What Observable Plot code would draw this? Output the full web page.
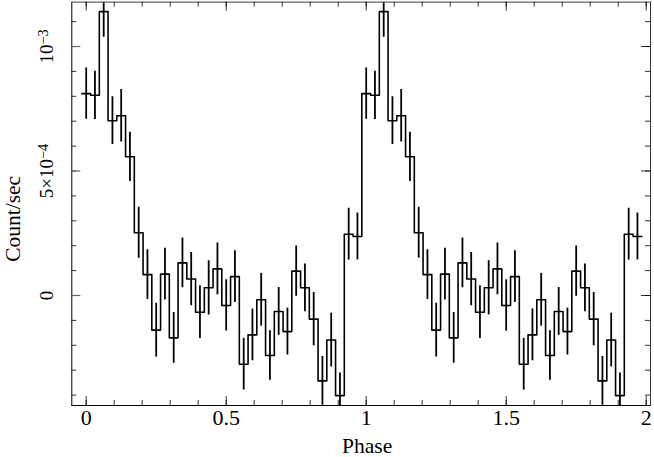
<!DOCTYPE html>
<html>
<head>
<meta charset="utf-8">
<script src="https://cdn.jsdelivr.net/npm/d3@7"></script>
<script src="https://cdn.jsdelivr.net/npm/@observablehq/plot@0.6"></script>
<style>
  html, body { margin: 0; padding: 0; background: #fff; }
  svg { display: block; }
  svg text { font-family: 'Liberation Serif', 'Times New Roman', serif !important; }
</style>
</head>
<body>
<div id="chart"></div>
<script>
// Folded light curve: 32 phase bins per cycle, shown twice (phase 0-2)
const binsPerCycle = 32;
// Count rate per bin, in units of 1e-4 count/sec
const rateE4 = [8.11, 8.04, 11.4, 7.02, 7.22, 5.57, 2.52, 0.84, -1.39, 0.86, -1.70, 1.31, 0.66, -0.67, 0.31, 1.07,
                -0.40, 0.76, -2.76, -1.58, -0.17, -2.41, -0.64, -1.45, 0.98, 0.31, -0.95, -3.43, -1.79, -4.02, 2.46, 2.37];
// 1-sigma errors, in units of 1e-4 count/sec
const errE4 = [1.03, 0.97, 1.03, 0.96, 1.05, 0.99, 1.02, 1.00, 1.08, 1.04, 1.02, 1.00, 1.07, 1.06, 1.09, 1.04,
               1.03, 1.04, 1.04, 1.04, 1.06, 0.99, 0.96, 0.94, 1.01, 0.96, 1.07, 0.98, 1.08, 0.91, 1.04, 0.94];
const cycles = [0, 1];

const xMajorTicks = [0, 0.5, 1, 1.5, 2];
const xMajorLabels = ["0", "0.5", "1", "1.5", "2"];
const xMinorTicks = d3.range(0, 2.01, 0.1).map(d => +d.toFixed(2));
const yMajorTicks = [0, 5, 10];
// label base and superscript exponent
const yLabelBase = ["0", "5×10", "10"];
const yLabelExp = ["", "−4", "−3"];
const yMinorTicks = d3.range(-4, 12, 1);

const xDomain = [-0.0514, 2.0154];
const yDomain = [-4.418, 11.78];

// Build bin table
const w = 1 / binsPerCycle;
const bins = [];
cycles.forEach(c => rateE4.forEach((v, i) => {
  bins.push({phase: c + i * w, rate: v, err: errE4[i]});
}));
const steps = bins.flatMap(b => [{x: b.phase - w / 2, y: b.rate}, {x: b.phase + w / 2, y: b.rate}]);

const W = 654, H = 457;
const mL = 71.3, mR = 4, mT = 1.7, mB = 52;
const innerW = W - mL - mR, innerH = H - mT - mB;
const majorLen = 9, minorLen = 5;
const font = "'Liberation Serif', 'Times New Roman', serif";

const chart = Plot.plot({
  width: W,
  height: H,
  marginLeft: mL,
  marginRight: mR,
  marginTop: mT,
  marginBottom: mB,
  style: {fontFamily: font, background: "#fff", color: "#000"},
  x: {domain: xDomain, axis: null},
  y: {domain: yDomain, axis: null},
  marks: [
    // error bars
    Plot.ruleX(bins, {x: "phase", y1: d => d.rate - d.err, y2: d => d.rate + d.err, stroke: "#000", strokeWidth: 1.8, clip: true}),
    // step histogram
    Plot.line(steps, {x: "x", y: "y", stroke: "#000", strokeWidth: 1.6, clip: true}),
    // frame
    Plot.frame({anchor: "left", stroke: "#000", strokeWidth: 1}),
    Plot.frame({anchor: "bottom", stroke: "#000", strokeWidth: 1}),
    Plot.frame({anchor: "top", stroke: "#666", strokeWidth: 1.2}),
    Plot.frame({anchor: "right", stroke: "#333", strokeWidth: 1}),
    // x ticks (inward, bottom and top)
    Plot.ruleX(xMinorTicks, {x: d => d, insetTop: innerH - minorLen, stroke: "#000", strokeWidth: 0.8}),
    Plot.ruleX(xMinorTicks, {x: d => d, insetBottom: innerH - minorLen, stroke: "#000", strokeWidth: 0.8}),
    Plot.ruleX(xMajorTicks, {x: d => d, insetTop: innerH - majorLen, stroke: "#000", strokeWidth: 0.8}),
    Plot.ruleX(xMajorTicks, {x: d => d, insetBottom: innerH - majorLen, stroke: "#000", strokeWidth: 0.8}),
    // y ticks (inward, left and right)
    Plot.ruleY(yMinorTicks, {y: d => d, insetRight: innerW - minorLen, stroke: "#000", strokeWidth: 0.8}),
    Plot.ruleY(yMinorTicks, {y: d => d, insetLeft: innerW - minorLen, stroke: "#000", strokeWidth: 0.8}),
    Plot.ruleY(yMajorTicks, {y: d => d, insetRight: innerW - majorLen, stroke: "#666", strokeWidth: 1.2}),
    Plot.ruleY(yMajorTicks, {y: d => d, insetLeft: innerW - majorLen, stroke: "#000", strokeWidth: 0.8}),
    // x tick labels
    Plot.text(xMajorTicks, {x: d => d, text: (d, i) => xMajorLabels[i], frameAnchor: "bottom", lineAnchor: "middle", dy: 12, fontSize: 22, fontFamily: font, fill: "#000"}),
    // y tick labels (rotated)
    Plot.text(yMajorTicks, {y: d => d, text: (d, i) => "YLBL" + i, frameAnchor: "left", textAnchor: "middle", lineAnchor: "middle", rotate: -90, dx: -24.4, fontSize: 19, fontFamily: font, fill: "#000"}),
    // axis titles
    Plot.text(["Phase"], {frameAnchor: "bottom", lineAnchor: "middle", dy: 40.3, dx: 6, fontSize: 21.5, fontFamily: font, fill: "#000"}),
    Plot.text(["Count/sec"], {frameAnchor: "left", textAnchor: "middle", lineAnchor: "middle", rotate: -90, dx: 12.6 - mL, dy: 15, fontSize: 21.5, fontFamily: font, fill: "#000"})
  ]
});

// Replace placeholder y labels with base + superscript tspans
d3.select(chart).selectAll("text").each(function() {
  const t = this.textContent;
  const m = /^YLBL(\d+)$/.exec(t);
  if (!m) return;
  const i = +m[1];
  const sel = d3.select(this);
  sel.text(null);
  sel.append("tspan").text(yLabelBase[i]);
  if (yLabelExp[i]) {
    sel.append("tspan").attr("dy", "-0.42em").attr("font-size", "0.75em").text(yLabelExp[i]);
  }
});
document.getElementById("chart").appendChild(chart);
</script>
</body>
</html>
